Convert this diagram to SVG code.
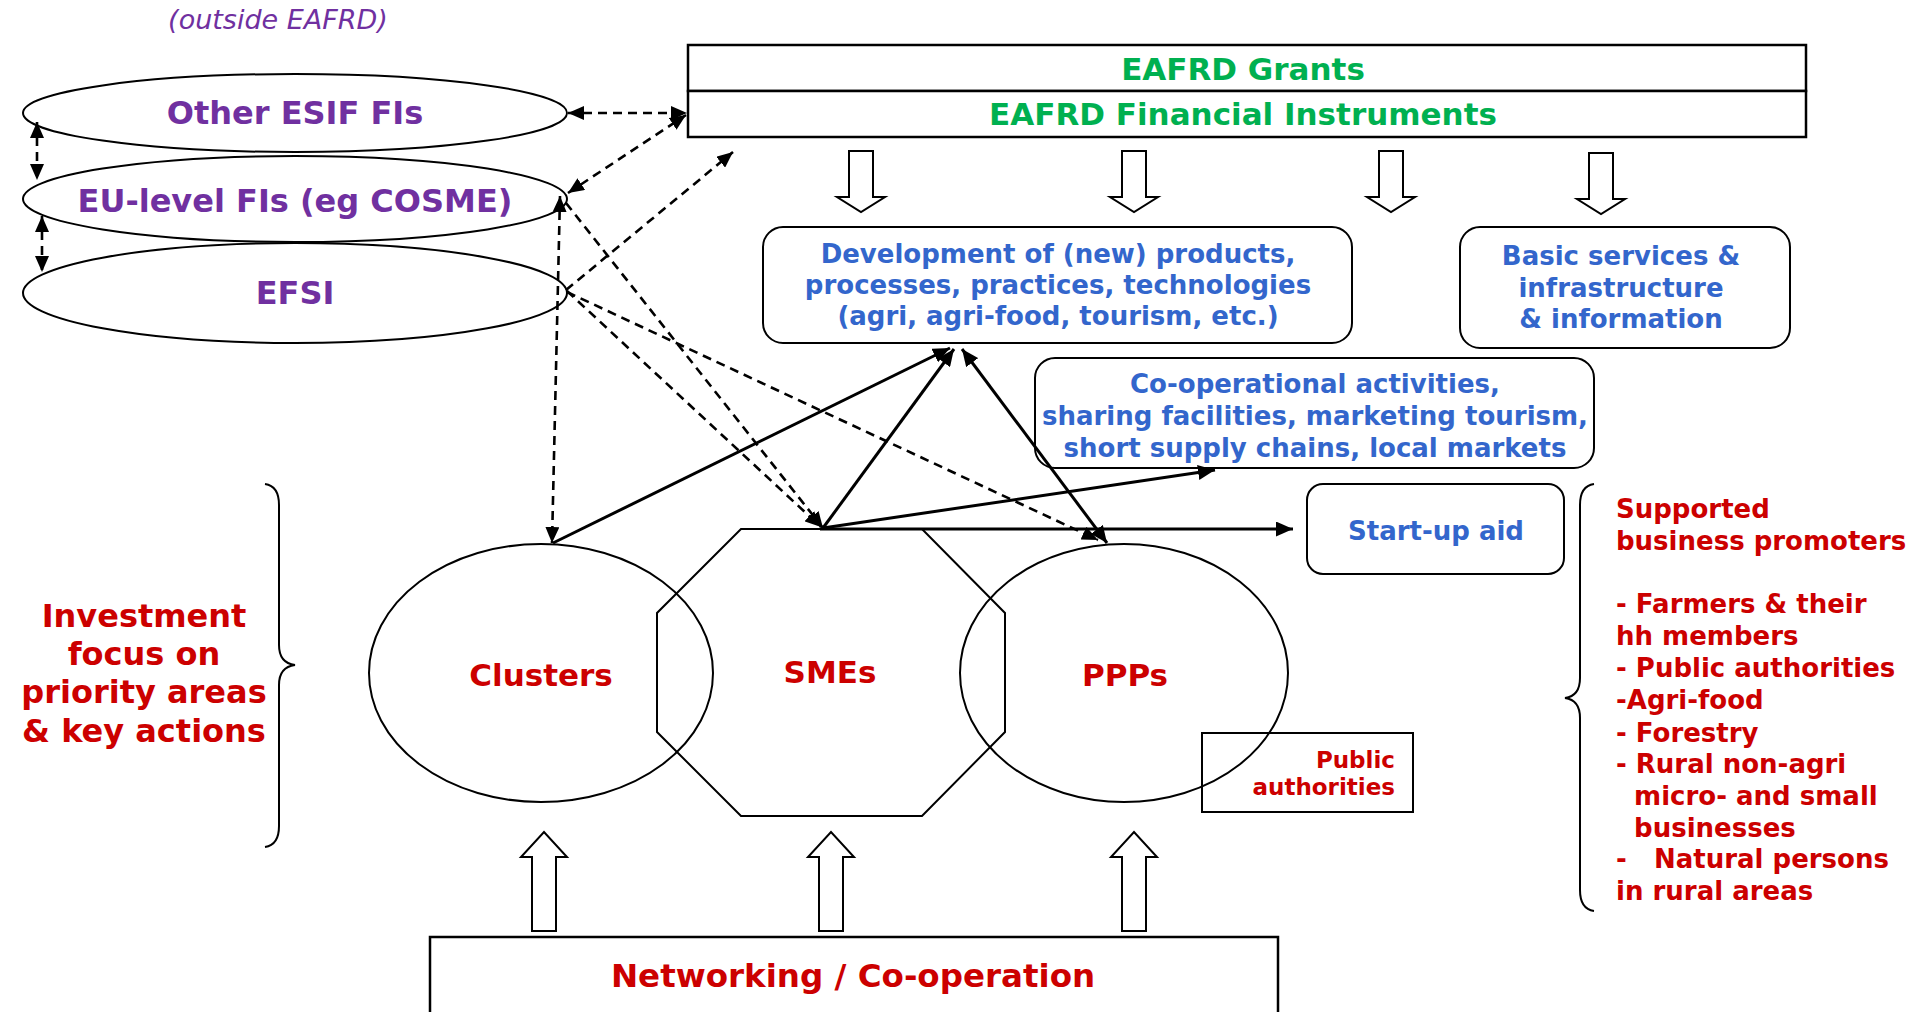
<svg xmlns="http://www.w3.org/2000/svg" width="1915" height="1012" viewBox="0 0 1915 1012">
<defs>
<style>
text{font-family:"DejaVu Sans","Verdana",sans-serif;font-weight:bold;}
.shape{fill:none;stroke:#000;stroke-width:2;}
.box{fill:#fff;stroke:#000;stroke-width:2.5;}
.purple{fill:#7030A0;font-size:32px;text-anchor:middle;}
.green{fill:#00B050;font-size:31px;text-anchor:middle;}
.blue{fill:#3366CC;font-size:26px;text-anchor:middle;}
.red{fill:#CC0000;}
.solid{fill:none;stroke:#000;stroke-width:3;}
.dash{fill:none;stroke:#000;stroke-width:2.6;stroke-dasharray:9 6;}
.block{fill:#fff;stroke:#000;stroke-width:2;}
</style>
<marker id="ah" markerUnits="userSpaceOnUse" markerWidth="17" markerHeight="15" refX="17" refY="7.5" orient="auto-start-reverse" viewBox="0 0 17 15">
<path d="M0,0 L17,7.5 L0,15 z" fill="#000"/>
</marker>
<marker id="dh" markerUnits="userSpaceOnUse" markerWidth="16" markerHeight="14" refX="16" refY="7" orient="auto-start-reverse" viewBox="0 0 16 14">
<path d="M0,0 L16,7 L0,14 z" fill="#000"/>
</marker>
</defs>
<rect width="1915" height="1012" fill="#fff"/>

<text x="278" y="29" style="font-weight:normal;font-style:italic;font-size:27px;fill:#7030A0;text-anchor:middle">(outside EAFRD)</text>

<g id="other-esif">
<ellipse class="shape" cx="295" cy="113" rx="272" ry="39"/>
<text class="purple" x="295" y="124">Other ESIF FIs</text>
</g>
<g id="eu-level">
<ellipse class="shape" cx="295" cy="199" rx="272" ry="43"/>
<text class="purple" x="295" y="212">EU-level FIs (eg COSME)</text>
</g>
<g id="efsi">
<ellipse class="shape" cx="295" cy="293" rx="272" ry="50"/>
<text class="purple" x="295" y="304">EFSI</text>
</g>

<g id="eafrd">
<rect class="box" x="688" y="45" width="1118" height="46"/>
<rect class="box" x="688" y="91" width="1118" height="46"/>
<text class="green" x="1243" y="80">EAFRD Grants</text>
<text class="green" x="1243" y="125">EAFRD Financial Instruments</text>
</g>

<g id="down-arrows">
<path class="block" d="M849,151 L873,151 L873,197 L885,197 L861,212 L837,197 L849,197 z"/>
<path class="block" d="M1122,151 L1146,151 L1146,197 L1158,197 L1134,212 L1110,197 L1122,197 z"/>
<path class="block" d="M1379,151 L1403,151 L1403,197 L1415,197 L1391,212 L1367,197 L1379,197 z"/>
<path class="block" d="M1589,153 L1613,153 L1613,199 L1625,199 L1601,214 L1577,199 L1589,199 z"/>
</g>

<g id="development">
<rect class="shape" x="763" y="227" width="589" height="116" rx="20"/>
<text class="blue" x="1058" y="263">Development of (new) products,</text>
<text class="blue" x="1058" y="294">processes, practices, technologies</text>
<text class="blue" x="1058" y="325">(agri, agri-food, tourism, etc.)</text>
</g>

<g id="basic-services">
<rect class="shape" x="1460" y="227" width="330" height="121" rx="20"/>
<text class="blue" x="1621" y="265">Basic services &amp;</text>
<text class="blue" x="1621" y="297">infrastructure</text>
<text class="blue" x="1621" y="328">&amp; information</text>
</g>

<g id="cooperational">
<rect class="shape" x="1035" y="358" width="559" height="110" rx="20"/>
<text class="blue" x="1315" y="393">Co-operational activities,</text>
<text class="blue" x="1315" y="425">sharing facilities, marketing tourism,</text>
<text class="blue" x="1315" y="457">short supply chains, local markets</text>
</g>

<g id="startup">
<rect class="shape" x="1307" y="484" width="257" height="90" rx="16"/>
<text class="blue" x="1436" y="540">Start-up aid</text>
</g>

<g id="investment">
<path class="shape" d="M265,484 Q279,486 279,505 L279,645 Q279,663 295,665 Q279,667 279,685 L279,826 Q279,845 265,847"/>
<text class="red" style="font-size:32px;text-anchor:middle" x="144" y="627">Investment</text>
<text class="red" style="font-size:32px;text-anchor:middle" x="144" y="665">focus on</text>
<text class="red" style="font-size:32px;text-anchor:middle" x="144" y="703">priority areas</text>
<text class="red" style="font-size:32px;text-anchor:middle" x="144" y="742">&amp; key actions</text>
</g>

<g id="public-authorities">
<rect class="shape" x="1202" y="733" width="211" height="79"/>
<text class="red" style="font-size:23px;text-anchor:end" x="1395" y="768">Public</text>
<text class="red" style="font-size:23px;text-anchor:end" x="1395" y="795">authorities</text>
</g>

<g id="clusters">
<ellipse class="shape" cx="541" cy="673" rx="172" ry="129"/>
<text class="red" style="font-size:31px;text-anchor:middle" x="541" y="686">Clusters</text>
</g>
<g id="smes">
<path class="shape" d="M741,529 L922,529 L1005,613 L1005,732 L922,816 L741,816 L657,732 L657,613 z"/>
<text class="red" style="font-size:31px;text-anchor:middle" x="830" y="683">SMEs</text>
</g>
<g id="ppps">
<ellipse class="shape" cx="1124" cy="673" rx="164" ry="129"/>
<text class="red" style="font-size:31px;text-anchor:middle" x="1125" y="686">PPPs</text>
</g>

<g id="promoters">
<path class="shape" d="M1594,484 Q1580,486 1580,505 L1580,678 Q1580,696 1565,698 Q1580,700 1580,718 L1580,890 Q1580,909 1594,911"/>
<g class="red" style="font-size:26px">
<text x="1616" y="518">Supported</text>
<text x="1616" y="550">business promoters</text>
<text x="1616" y="613" style="white-space:pre">- Farmers &amp; their</text>
<text x="1616" y="645">hh members</text>
<text x="1616" y="677" style="white-space:pre">- Public authorities</text>
<text x="1616" y="709">-Agri-food</text>
<text x="1616" y="742" style="white-space:pre">- Forestry</text>
<text x="1616" y="773" style="white-space:pre">- Rural non-agri</text>
<text x="1616" y="805" style="white-space:pre">  micro- and small</text>
<text x="1616" y="837" style="white-space:pre">  businesses</text>
<text x="1616" y="868" style="white-space:pre">-   Natural persons</text>
<text x="1616" y="900">in rural areas</text>
</g>
</g>

<g id="up-arrows">
<path class="block" d="M532,931 L556,931 L556,857 L567,857 L544,832 L521,857 L532,857 z"/>
<path class="block" d="M819,931 L843,931 L843,857 L854,857 L831,832 L808,857 L819,857 z"/>
<path class="block" d="M1122,931 L1146,931 L1146,857 L1157,857 L1134,832 L1111,857 L1122,857 z"/>
</g>

<g id="networking">
<rect class="box" x="430" y="937" width="848" height="90"/>
<text class="red" style="font-size:32.5px;text-anchor:middle" x="853" y="987">Networking / Co-operation</text>
</g>

<g id="connectors">
<line class="dash" x1="568" y1="113" x2="687" y2="113" marker-start="url(#dh)" marker-end="url(#dh)"/>
<line class="dash" x1="568" y1="193" x2="686" y2="115" marker-start="url(#dh)" marker-end="url(#dh)"/>
<line class="dash" x1="566" y1="290" x2="733" y2="152" marker-end="url(#dh)"/>
<line class="dash" x1="560" y1="196" x2="552" y2="543" marker-start="url(#dh)" marker-end="url(#dh)"/>
<line class="dash" x1="566" y1="203" x2="823" y2="528" marker-end="url(#dh)"/>
<line class="dash" x1="567" y1="291" x2="821" y2="527" marker-end="url(#dh)"/>
<line class="dash" x1="567" y1="292" x2="1098" y2="540" marker-end="url(#dh)"/>
<line class="dash" x1="37" y1="122" x2="37" y2="180" marker-start="url(#dh)" marker-end="url(#dh)"/>
<line class="dash" x1="42" y1="216" x2="42" y2="272" marker-start="url(#dh)" marker-end="url(#dh)"/>
<line class="solid" x1="553" y1="543" x2="950" y2="348" marker-end="url(#ah)"/>
<line class="solid" x1="823" y1="528" x2="954" y2="349" marker-end="url(#ah)"/>
<line class="solid" x1="1107" y1="543" x2="962" y2="349" marker-start="url(#ah)" marker-end="url(#ah)"/>
<line class="solid" x1="823" y1="528" x2="1215" y2="470" marker-end="url(#ah)"/>
<line class="solid" x1="820" y1="529" x2="1293" y2="529" marker-end="url(#ah)"/>
</g>
</svg>
